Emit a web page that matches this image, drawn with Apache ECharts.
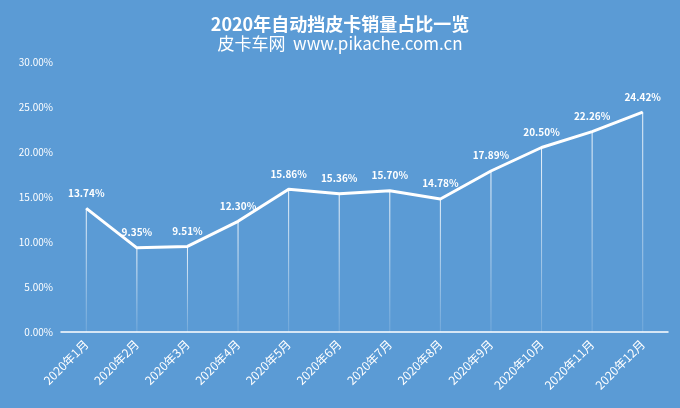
<!DOCTYPE html>
<html><head><meta charset="utf-8">
<script src="https://cdn.jsdelivr.net/npm/echarts@6/dist/echarts.min.js"></script>
<style>html,body{margin:0;padding:0;background:#5b9bd5}#c{width:680px;height:408px}</style>
</head><body><div id="c"></div>
<script>
const categories = ['2020年1月','2020年2月','2020年3月','2020年4月','2020年5月','2020年6月','2020年7月','2020年8月','2020年9月','2020年10月','2020年11月','2020年12月'];
const values = [13.74,9.35,9.51,12.30,15.86,15.36,15.70,14.78,17.89,20.50,22.26,24.42];
const yTicks = [0,5,10,15,20,25,30];
const font = '"Noto Sans CJK SC","Noto Sans",sans-serif';
const chart = echarts.init(document.getElementById('c'));
chart.setOption({
  backgroundColor:'#5b9bd5',
  title:{text:'2020年自动挡皮卡销量占比一览',subtext:'皮卡车网  www.pikache.com.cn',left:'center',top:10,itemGap:2,
    textStyle:{color:'#fff',fontSize:18,fontWeight:'bold',fontFamily:font},
    subtextStyle:{color:'#fff',fontSize:17,fontFamily:font}},
  grid:{left:61,right:12,top:62,bottom:76},
  xAxis:{type:'category',data:categories,boundaryGap:true,
    axisLine:{lineStyle:{color:'#fff',width:1.5}},axisTick:{lineStyle:{color:'#fff'}},
    axisLabel:{color:'#fff',rotate:45,fontSize:12,fontFamily:font,margin:10}},
  yAxis:{type:'value',min:0,max:30,interval:5,splitLine:{show:false},axisLine:{show:false},axisTick:{show:false},
    axisLabel:{color:'#fff',fontSize:10,fontFamily:font,formatter:v=>v.toFixed(2)+'%'}},
  series:[
    {type:'bar',data:values,barWidth:1,silent:true,
      itemStyle:{color:new echarts.graphic.LinearGradient(0,0,0,1,[{offset:0,color:'rgba(255,255,255,0.9)'},{offset:1,color:'rgba(255,255,255,0.15)'}])}},
    {type:'line',data:values,symbol:'circle',symbolSize:1,showSymbol:true,itemStyle:{color:'#fff'},lineStyle:{color:'#fff',width:3},
      label:{show:true,position:'top',distance:10,color:'#fff',fontSize:10,fontWeight:'bold',fontFamily:font,formatter:p=>p.value.toFixed(2)+'%'}}
  ]
});
</script></body></html>
